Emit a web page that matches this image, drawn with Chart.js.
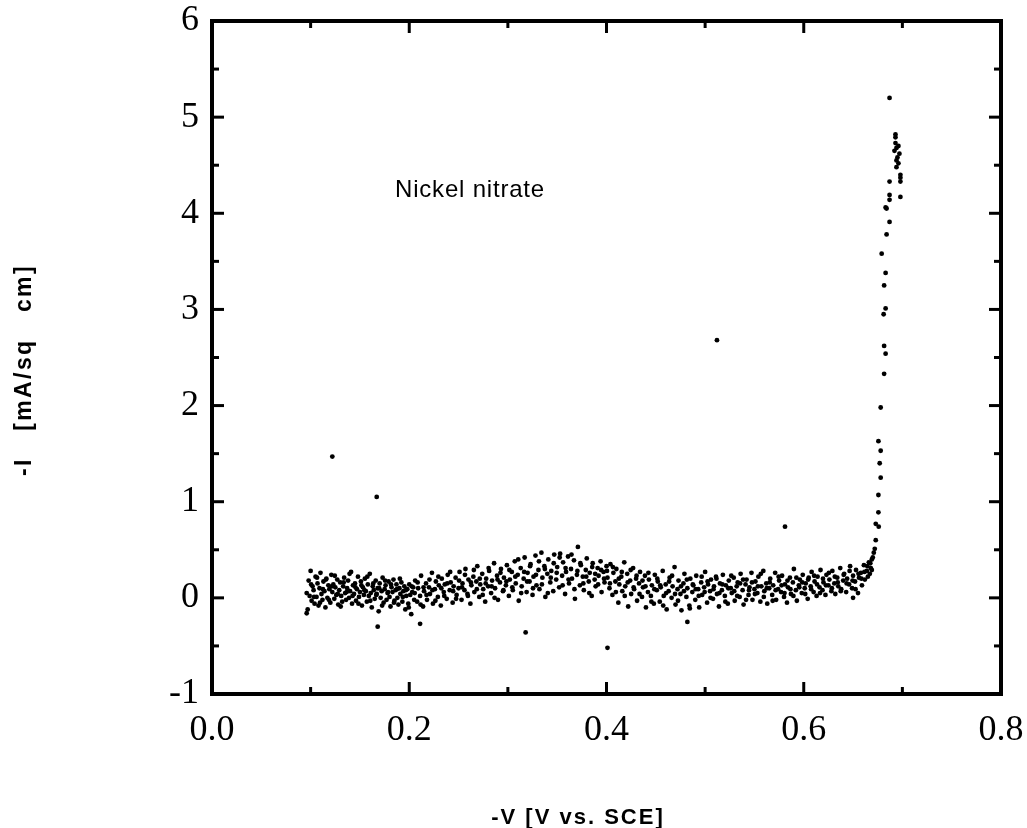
<!DOCTYPE html>
<html>
<head>
<meta charset="utf-8">
<title>Nickel nitrate</title>
<script src="https://cdn.jsdelivr.net/npm/chart.js@4/dist/chart.umd.min.js"></script>
<style>
  body { margin: 0; background: #fff; }
  #wrap { width: 1027px; height: 828px; position: relative; }
</style>
</head>
<body>
<div id="wrap"><canvas id="chart"></canvas></div>
<script>
// -V [V vs. SCE] vs -I [mA/sq cm]
const bandLow = [
  [0.096,0.05],[0.097,-0.12],[0.098,0.18],[0.099,0.02],[0.100,0.28],[0.101,-0.03],[0.102,0.12],[0.103,0.08],[0.104,-0.06],[0.105,0.22],
  [0.106,0.01],[0.107,0.15],[0.108,-0.08],[0.109,0.10],[0.110,0.26],[0.111,0.04],[0.112,-0.02],[0.113,0.17],[0.114,0.07],[0.115,-0.10],
  [0.116,0.20],[0.117,0.00],[0.118,0.13],[0.119,0.09],[0.120,-0.05],[0.121,0.24],[0.122,0.06],[0.123,0.14],[0.124,-0.01],[0.125,0.11],
  [0.126,0.03],[0.127,0.19],[0.128,-0.07],[0.129,0.08],[0.130,0.16],[0.131,0.02],[0.132,-0.04],[0.133,0.12],[0.134,0.21],[0.135,0.05],
  [0.136,-0.02],[0.137,0.10],[0.138,0.18],[0.139,0.00],[0.140,0.07],[0.141,0.27],[0.142,-0.06],[0.143,0.13],[0.144,0.04],[0.145,0.15],
  [0.146,-0.03],[0.147,0.09],[0.148,0.22],[0.149,0.01],[0.150,0.06],[0.151,0.17],[0.152,-0.08],[0.153,0.11],[0.154,0.03],[0.155,0.20],
  [0.156,0.07],[0.157,-0.04],[0.158,0.14],[0.159,0.02],[0.160,0.25],[0.161,0.05],[0.162,-0.10],[0.163,0.12],[0.164,0.08],[0.165,-0.01],
  [0.166,0.18],[0.167,0.04],[0.168,0.10],[0.169,-0.14],[0.170,0.15],[0.171,0.00],[0.172,0.07],[0.173,0.21],[0.174,-0.05],[0.175,0.09],
  [0.176,0.13],[0.177,-0.02],[0.178,0.05],[0.179,0.17],[0.180,0.01],[0.181,-0.09],[0.182,0.11],[0.183,0.06],[0.184,0.19],[0.185,-0.03],
  [0.186,0.08],[0.187,0.14],[0.188,0.00],[0.189,-0.07],[0.190,0.10],[0.191,0.04],[0.192,0.16],[0.193,-0.04],[0.194,0.07],[0.195,0.12],
  [0.196,-0.12],[0.197,0.02],[0.198,0.09],[0.199,-0.06],[0.200,0.14],[0.201,0.03],[0.202,-0.17],[0.203,0.06],[0.204,0.11],[0.205,-0.02]
]

const bandMid = [
  [0.206,0.18],[0.208,-0.04],[0.209,0.10],[0.211,0.02],[0.212,0.23],[0.214,-0.09],[0.215,0.07],[0.217,0.15],[0.218,-0.02],[0.220,0.11],
  [0.221,0.04],[0.223,0.26],[0.224,-0.06],[0.226,0.09],[0.227,0.17],[0.229,0.01],[0.230,0.13],[0.232,-0.08],[0.233,0.20],[0.235,0.06],
  [0.236,0.14],[0.238,-0.01],[0.239,0.24],[0.241,0.08],[0.242,0.16],[0.244,-0.05],[0.245,0.12],[0.247,0.21],[0.248,0.03],[0.250,0.10],
  [0.251,0.27],[0.253,-0.02],[0.254,0.15],[0.256,0.08],[0.257,0.30],[0.259,0.04],[0.260,0.19],[0.262,-0.06],[0.263,0.13],[0.265,0.22],
  [0.266,0.06],[0.268,0.17],[0.269,0.33],[0.271,0.01],[0.272,0.14],[0.274,0.25],[0.275,0.09],[0.277,-0.04],[0.278,0.20],[0.280,0.12],
  [0.281,0.28],[0.283,0.05],[0.284,0.18],[0.286,0.36],[0.287,0.10],[0.289,0.23],[0.290,-0.02],[0.292,0.16],[0.293,0.30],[0.295,0.07],
  [0.296,0.21],[0.298,0.13],[0.299,0.34],[0.301,0.02],
  [0.302,0.19],[0.304,0.27],[0.305,0.08],[0.307,0.38],[0.308,0.15],[0.310,0.24],[0.311,-0.03],[0.313,0.31],[0.314,0.12],[0.316,0.20],
  [0.317,0.42],[0.319,0.06],[0.320,0.26],[0.322,0.17],[0.323,0.35],[0.325,0.03],[0.326,0.22],[0.328,0.44],[0.329,0.13],[0.331,0.29],
  [0.332,0.09],[0.334,0.47],[0.335,0.21],[0.337,0.33],[0.338,0.01],[0.340,0.25],[0.341,0.40],[0.343,0.16],[0.344,0.28],[0.346,0.07],
  [0.347,0.45],[0.349,0.19],[0.350,0.32],[0.352,0.11],[0.353,0.46],[0.355,0.23],[0.356,0.37],[0.358,0.04],[0.359,0.27],[0.361,0.43],
  [0.362,0.15],[0.364,0.30],[0.365,0.20],[0.367,0.39],[0.368,-0.01],[0.370,0.24],[0.371,0.53],[0.373,0.13],[0.374,0.34],[0.376,0.22],
  [0.377,0.08],[0.379,0.29],[0.380,0.41],[0.382,0.17],[0.383,0.26],[0.385,0.02],[0.386,0.36],[0.388,0.19],[0.389,0.12],[0.391,0.31],
  [0.392,0.23],[0.394,0.38],[0.395,0.06],[0.397,0.27],[0.398,0.16],[0.400,0.33],
  [0.401,0.21],[0.403,0.10],[0.404,0.35],[0.406,0.03],[0.407,0.26],[0.409,0.17],[0.410,0.30],[0.412,-0.05],[0.413,0.14],[0.415,0.22],
  [0.416,0.07],[0.418,0.37],[0.419,0.12],[0.421,0.25],[0.422,-0.09],[0.424,0.18],[0.425,0.04],[0.427,0.31],[0.428,0.09],[0.430,0.20],
  [0.431,-0.03],[0.433,0.15],[0.434,0.27],[0.436,0.01],[0.437,0.11],[0.439,0.23],[0.440,-0.10],[0.442,0.06],[0.443,0.19],[0.445,0.02],
  [0.446,0.13],[0.448,-0.06],[0.449,0.24]
]

const bandHigh = [
  [0.451,0.08],[0.452,0.17],[0.454,-0.04],[0.455,0.11],[0.457,0.28],[0.458,0.02],[0.460,0.14],[0.461,-0.12],[0.463,0.07],[0.464,0.21],
  [0.466,0.00],[0.467,0.12],[0.469,0.32],[0.470,-0.07],[0.472,0.09],[0.473,0.18],[0.475,0.04],[0.476,-0.13],[0.478,0.15],[0.479,0.25],
  [0.481,0.01],[0.482,0.10],[0.484,-0.08],[0.485,0.20],[0.487,0.06],[0.488,0.13],[0.490,-0.02],[0.491,0.23],[0.493,0.09],[0.494,-0.10],
  [0.496,0.16],[0.497,0.03],[0.499,0.11],[0.500,0.27],[0.502,-0.05],[0.503,0.14],[0.505,0.07],[0.506,0.19],[0.508,-0.01],[0.509,0.12],
  [0.511,0.22],[0.512,0.04],[0.514,-0.09],[0.515,0.15],[0.517,0.08],[0.518,0.24],[0.520,0.02],[0.521,0.13],[0.523,-0.06],[0.524,0.18],
  [0.526,0.10],[0.527,0.05],[0.529,0.21],[0.530,-0.03],[0.532,0.12],[0.533,0.16],[0.535,0.01],[0.536,0.25],[0.538,0.08],[0.539,-0.07],
  [0.541,0.14],[0.542,0.19],[0.544,0.03],[0.545,0.11],[0.547,0.26],[0.548,-0.02],[0.550,0.09],
  [0.551,0.17],[0.553,0.05],[0.554,0.22],[0.556,-0.04],[0.557,0.12],[0.559,0.28],[0.560,0.07],[0.562,0.15],[0.563,-0.06],[0.565,0.10],
  [0.566,0.20],[0.568,0.03],[0.569,0.13],[0.571,0.26],[0.572,-0.02],[0.574,0.09],[0.575,0.18],[0.577,0.06],[0.578,0.23],[0.580,0.01],
  [0.581,0.14],[0.583,-0.05],[0.584,0.11],[0.586,0.21],[0.587,0.04],[0.589,0.16],[0.590,0.30],[0.592,0.08],[0.593,-0.03],[0.595,0.13],
  [0.596,0.19],[0.598,0.05],[0.599,0.24],[0.601,0.10],[0.602,0.15],[0.604,-0.01],[0.605,0.21],[0.607,0.12],[0.608,0.27],[0.610,0.06],
  [0.611,0.17],[0.613,0.02],[0.614,0.22],[0.616,0.11],[0.617,0.29],[0.619,0.08],[0.620,0.16],[0.622,0.03],[0.623,0.24],[0.625,0.13],
  [0.626,0.19],[0.628,0.07],[0.629,0.28],[0.631,0.15],[0.632,0.04],[0.634,0.21],[0.635,0.12],[0.637,0.31],[0.638,0.09],[0.640,0.18],
  [0.641,0.25],[0.643,0.06],[0.644,0.20],[0.646,0.14],[0.647,0.33],[0.649,0.10],[0.650,0.23],[0.652,0.17],[0.653,0.29],[0.655,0.05],
  [0.656,0.21],[0.658,0.26],[0.659,0.13],[0.661,0.34],[0.662,0.19],[0.664,0.28],[0.665,0.22],[0.666,0.37],[0.667,0.25],[0.668,0.31],
  [0.669,0.40],[0.669,0.29]
]

// second sweep through the same range, filling the band in between
const bandSecond = [
  [0.1005,0.14],[0.1035,0.01],[0.1065,0.21],[0.1095,-0.05],[0.1125,0.09],[0.1155,0.19],[0.1185,-0.02],[0.1215,0.12],[0.1245,0.23],[0.1275,0.04],
  [0.1305,-0.09],[0.1335,0.16],[0.1365,0.06],[0.1395,0.25],[0.1425,0.02],[0.1455,0.11],[0.1485,-0.06],[0.1515,0.13],[0.1545,0.08],[0.1575,0.22],
  [0.1605,-0.03],[0.1635,0.15],[0.1665,0.03],[0.1695,0.10],[0.1725,-0.08],[0.1755,0.18],[0.1785,0.06],[0.1815,0.14],[0.1845,-0.05],[0.1875,0.09],
  [0.1905,0.20],[0.1935,0.01],[0.1965,0.08],[0.1995,-0.10],[0.2025,0.12],
  [0.2055,0.05],[0.2085,0.16],[0.2115,-0.07],[0.2145,0.11],[0.2175,0.03],[0.2205,0.19],[0.2235,0.08],[0.2265,-0.03],[0.2295,0.22],[0.2325,0.10],
  [0.2355,0.02],[0.2385,0.15],[0.2415,0.27],[0.2445,0.07],[0.2475,-0.01],[0.2505,0.18],[0.2535,0.11],[0.2565,0.24],[0.2595,0.02],[0.2625,0.16],
  [0.2655,0.29],[0.2685,0.09],[0.2715,0.20],[0.2745,0.03],[0.2775,0.15],[0.2805,0.31],[0.2835,0.12],[0.2865,0.00],[0.2895,0.19],[0.2925,0.26],
  [0.2955,0.08],[0.2985,0.17],
  [0.3015,0.29],[0.3045,0.11],[0.3075,0.22],[0.3105,0.40],[0.3135,0.05],[0.3165,0.27],[0.3195,0.17],[0.3225,0.33],[0.3255,0.10],[0.3285,0.24],
  [0.3315,0.38],[0.3345,0.14],[0.3375,0.30],[0.3405,0.05],[0.3435,0.21],[0.3465,0.36],[0.3495,0.26],[0.3525,0.42],[0.3555,0.13],[0.3585,0.31],
  [0.3615,0.19],[0.3645,0.45],[0.3675,0.09],[0.3705,0.28],[0.3735,0.36],[0.3765,0.15],[0.3795,0.22],[0.3825,0.05],[0.3855,0.32],[0.3885,0.25],
  [0.3915,0.14],[0.3945,0.29],[0.3975,0.20],
  [0.4005,0.28],[0.4035,0.15],[0.4065,0.32],[0.4095,0.06],[0.4125,0.20],[0.4155,0.27],[0.4185,0.02],[0.4215,0.16],[0.4245,0.29],[0.4275,0.11],
  [0.4305,0.23],[0.4335,0.04],[0.4365,0.18],[0.4395,0.12],[0.4425,0.26],[0.4455,-0.04],[0.4485,0.09],[0.4515,0.20],[0.4545,0.13],[0.4575,-0.08],
  [0.4605,0.05],[0.4635,0.17],[0.4665,0.23],[0.4695,0.04],[0.4725,-0.03],[0.4755,0.12],[0.4785,0.07],[0.4815,0.19],[0.4845,-0.11],[0.4875,0.14],
  [0.4905,0.09],[0.4935,0.02],[0.4965,0.22],[0.4995,0.06],
  [0.5025,0.17],[0.5055,0.00],[0.5085,0.09],[0.5115,0.20],[0.5145,0.05],[0.5175,0.14],[0.5205,-0.04],[0.5235,0.10],[0.5265,0.23],[0.5295,0.07],
  [0.5325,0.02],[0.5355,0.15],[0.5385,0.19],[0.5415,-0.02],[0.5445,0.08],[0.5475,0.16],[0.5505,0.04],[0.5535,0.12],[0.5565,0.25],[0.5595,0.01],
  [0.5625,0.10],[0.5655,0.16],[0.5685,-0.03],[0.5715,0.08],[0.5745,0.22],[0.5775,0.13],[0.5805,0.05],[0.5835,0.18],[0.5865,0.09],[0.5895,0.02],
  [0.5925,0.21],[0.5955,0.11],[0.5985,0.16],
  [0.6015,0.04],[0.6045,0.19],[0.6075,0.09],[0.6105,0.23],[0.6135,0.14],[0.6165,0.05],[0.6195,0.20],[0.6225,0.13],[0.6255,0.26],[0.6285,0.10],
  [0.6315,0.22],[0.6345,0.16],[0.6375,0.07],[0.6405,0.24],[0.6435,0.15],[0.6465,0.28],[0.6495,0.18],[0.6525,0.09],[0.6555,0.25],[0.6585,0.20],
  [0.6615,0.27],[0.6645,0.33],[0.6675,0.36]
]

const risePoints = [
  [0.670,0.42],[0.671,0.47],[0.672,0.51],[0.673,0.60],[0.673,0.77],[0.676,0.74],[0.6757,0.89],[0.6757,1.07],[0.678,1.25],[0.677,1.40],
  [0.678,1.53],[0.6757,1.63],[0.678,1.98],[0.6815,2.33],[0.683,2.54],[0.6815,2.62],[0.681,2.95],[0.683,3.01],[0.6815,3.25],[0.683,3.38],
  [0.679,3.58],[0.684,3.78],[0.687,3.91],[0.683,4.06],[0.684,4.05],[0.687,4.14],[0.687,4.19],[0.698,4.17],[0.687,4.33],[0.698,4.33],
  [0.698,4.37],[0.698,4.40],[0.694,4.48],[0.696,4.52],[0.694,4.55],[0.695,4.58],[0.697,4.62],[0.692,4.65],[0.694,4.68],[0.696,4.70],
  [0.693,4.73],[0.693,4.79],[0.693,4.82],[0.687,5.20]
]

const outliers = [
  [0.122,1.47],[0.167,1.05],[0.512,2.68],[0.581,0.74],[0.401,-0.52],[0.318,-0.36],
  [0.168,-0.30],[0.211,-0.27],[0.096,-0.16],[0.482,-0.25],[0.650,0.00]
]

const xMajorTicks = [0.0, 0.2, 0.4, 0.6, 0.8]
const xMinorTicks = [0.1, 0.3, 0.5, 0.7]
const yMajorTicks = [-1, 0, 1, 2, 3, 4, 5, 6]
const yMinorTicks = [-0.5, 0.5, 1.5, 2.5, 3.5, 4.5, 5.5]

const xTitle = '-V [V vs. SCE]'
const yTitle = '-I   [mA/sq   cm]'
const noteText = 'Nickel nitrate'

const allPoints = [...bandLow, ...bandMid, ...bandHigh, ...bandSecond, ...risePoints, ...outliers]
  .map(([x, y]) => ({ x, y }))

// labels may hang over the plot edges, keep the layout from shrinking the frame
const noEdgePadding = (scale) => {
  scale.paddingTop = 0
  scale.paddingBottom = 0
  scale.paddingLeft = 0
  scale.paddingRight = 0
}

const frameTicks = {
  id: 'frameTicks',
  afterDatasetsDraw(chart) {
    const { ctx, chartArea: a, scales } = chart
    const xs = scales.x
    const ys = scales.y
    ctx.save()
    ctx.strokeStyle = '#000'
    ctx.lineWidth = 3
    ctx.lineCap = 'butt'
    const tick = (x1, y1, x2, y2) => {
      ctx.beginPath()
      ctx.moveTo(x1, y1)
      ctx.lineTo(x2, y2)
      ctx.stroke()
    }
    xMajorTicks.forEach((v) => {
      const px = xs.getPixelForValue(v)
      tick(px, a.bottom, px, a.bottom - 12)
      tick(px, a.top, px, a.top + 12)
    })
    xMinorTicks.forEach((v) => {
      const px = xs.getPixelForValue(v)
      tick(px, a.bottom, px, a.bottom - 7)
      tick(px, a.top, px, a.top + 7)
    })
    yMajorTicks.forEach((v) => {
      const py = ys.getPixelForValue(v)
      tick(a.left, py, a.left + 12, py)
      tick(a.right, py, a.right - 12, py)
    })
    yMinorTicks.forEach((v) => {
      const py = ys.getPixelForValue(v)
      tick(a.left, py, a.left + 7, py)
      tick(a.right, py, a.right - 7, py)
    })
    ctx.lineWidth = 4
    ctx.strokeRect(a.left, a.top, a.right - a.left, a.bottom - a.top)
    ctx.restore()
  },
  afterDraw(chart) {
    const { ctx } = chart
    ctx.save()
    ctx.fillStyle = '#000'
    ctx.textAlign = 'center'
    ctx.textBaseline = 'middle'

    ctx.font = '24px "Liberation Sans", Arial, sans-serif'
    ctx.letterSpacing = '0.8px'
    ctx.fillText(noteText, 470, 190)

    ctx.font = 'bold 22px "Liberation Sans", Arial, sans-serif'
    ctx.letterSpacing = '2px'
    ctx.fillText(xTitle, 578, 818)

    ctx.font = 'bold 23px "Liberation Sans", Arial, sans-serif'
    ctx.letterSpacing = '2.4px'
    ctx.translate(25, 370)
    ctx.rotate(-Math.PI / 2)
    ctx.fillText(yTitle, 0, 0)
    ctx.restore()
  },
}

new Chart(document.getElementById('chart'), {
  type: 'scatter',
  data: {
    datasets: [
      {
        data: allPoints,
        backgroundColor: '#000',
        borderWidth: 0,
        pointRadius: 2.4,
        pointHoverRadius: 2.4,
      },
    ],
  },
  options: {
    responsive: true,
    maintainAspectRatio: false,
    animation: false,
    layout: { padding: { top: 21, right: 26, left: 0, bottom: 0 } },
    plugins: {
      legend: { display: false },
      tooltip: { enabled: false },
    },
    scales: {
      x: {
        type: 'linear',
        min: 0,
        max: 0.8,
        afterFit: (scale) => {
          scale.height = 134
          noEdgePadding(scale)
        },
        grid: { display: false, drawTicks: false },
        border: { display: false },
        ticks: {
          stepSize: 0.2,
          padding: 15,
          color: '#000',
          font: { family: '"Liberation Serif", "Times New Roman", serif', size: 36 },
          callback: (v) => v.toFixed(1),
        },
      },
      y: {
        min: -1,
        max: 6,
        afterFit: (scale) => {
          scale.width = 212
          noEdgePadding(scale)
        },
        grid: { display: false, drawTicks: false },
        border: { display: false },
        ticks: {
          stepSize: 1,
          padding: 13,
          color: '#000',
          font: { family: '"Liberation Serif", "Times New Roman", serif', size: 36 },
        },
      },
    },
  },
  plugins: [frameTicks],
})
</script>
</body>
</html>
